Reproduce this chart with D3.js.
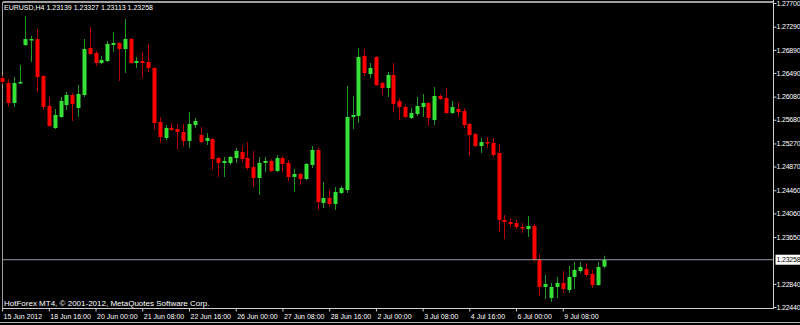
<!DOCTYPE html>
<html>
<head>
<meta charset="utf-8">
<script src="https://d3js.org/d3.v7.min.js"></script>
<style>
body { margin:0; background:#000; }
svg { display:block; }
text { font-family: 'Liberation Sans', Arial, sans-serif; font-size: 7px; fill: #fff; }
.yaxis text { letter-spacing: -0.2px; }
</style>
</head>
<body>
<svg id="drawing_region"></svg>
<script>
// EURUSD H4 bars
const symbol = 'EURUSD,H4';
const opens = [1.26402,1.26316,1.25970,1.26316,1.26973,1.27060,1.27077,1.26437,1.25918,1.25537,
  1.25728,1.25935,1.26108,1.25883,1.26108,1.26921,1.26835,1.26662,1.26697,1.26973,
  1.27008,1.26904,1.27077,1.26662,1.26697,1.26679,1.26575,1.25641,1.25364,1.25537,
  1.25520,1.25468,1.25313,1.25589,1.25416,1.25313,1.25347,1.25018,1.24932,1.24932,
  1.25018,1.25122,1.25018,1.24863,1.24672,1.24932,1.24967,1.24794,1.25018,1.24932,
  1.24690,1.24742,1.24655,1.24897,1.25157,1.24240,1.24326,1.24223,1.24413,1.24465,
  1.25728,1.25745,1.26783,1.26472,1.26766,1.26316,1.26229,1.26454,1.26005,1.25901,
  1.25710,1.25780,1.25901,1.25970,1.25676,1.26091,1.26056,1.25797,1.25866,1.25831,
  1.25607,1.25434,1.25226,1.25295,1.25278,1.25105,1.23946,1.23911,1.23894,1.23825,
  1.23790,1.23842,1.23254,1.22787,1.22596,1.22787,1.22856,1.22735,1.22960,1.23064,
  1.23098,1.23012,1.22821,1.23139];
const highs = [1.26440,1.26385,1.26420,1.26627,1.27475,1.27129,1.27250,1.26454,1.26074,1.25866,
  1.26074,1.26160,1.26143,1.26281,1.27077,1.27285,1.26870,1.26783,1.27043,1.27198,
  1.27025,1.27423,1.27095,1.26766,1.26852,1.26991,1.26593,1.25728,1.25589,1.25624,
  1.25607,1.25607,1.25814,1.25710,1.25555,1.25451,1.25365,1.25036,1.25036,1.25053,
  1.25191,1.25226,1.25295,1.25140,1.25036,1.25036,1.25001,1.25070,1.25053,1.24984,
  1.24828,1.24759,1.24932,1.25226,1.25191,1.24603,1.24465,1.24517,1.24534,1.26264,
  1.26091,1.26921,1.26904,1.26662,1.26783,1.26333,1.26506,1.26662,1.26056,1.25935,
  1.25883,1.26074,1.26126,1.25987,1.26247,1.26126,1.26229,1.26005,1.25987,1.25883,
  1.25624,1.25451,1.25364,1.25382,1.25364,1.25261,1.24032,1.23980,1.23946,1.23894,
  1.24015,1.23877,1.23358,1.22994,1.22856,1.22960,1.23064,1.23150,1.23219,1.23219,
  1.23202,1.23081,1.23219,1.23327];
const lows = [1.26299,1.25918,1.25901,1.26299,1.26956,1.26679,1.26160,1.25849,1.25555,1.25520,
  1.25710,1.25849,1.25659,1.25728,1.26074,1.26800,1.26610,1.26645,1.26679,1.26852,
  1.26351,1.26489,1.26645,1.26575,1.26402,1.26506,1.25503,1.25278,1.25330,1.25486,
  1.25174,1.25226,1.25191,1.25537,1.25278,1.25243,1.24811,1.24690,1.24690,1.24897,
  1.24932,1.24932,1.24811,1.24517,1.24378,1.24776,1.24776,1.24776,1.24776,1.24621,
  1.24430,1.24551,1.24638,1.24845,1.24119,1.24153,1.24171,1.24119,1.24396,1.24413,
  1.25520,1.25624,1.26437,1.26402,1.26264,1.26108,1.26074,1.25814,1.25676,1.25710,
  1.25693,1.25745,1.25728,1.25572,1.25589,1.26022,1.25780,1.25780,1.25728,1.25537,
  1.25053,1.25209,1.25105,1.25191,1.25036,1.23738,1.23617,1.23825,1.23790,1.23721,
  1.23652,1.23219,1.22631,1.22579,1.22527,1.22596,1.22683,1.22683,1.22752,1.23029,
  1.22960,1.22769,1.22804,1.23113];
const closes = [1.26333,1.25970,1.26316,1.26333,1.27077,1.27077,1.26420,1.25901,1.25572,1.25762,
  1.26005,1.26108,1.25953,1.26126,1.26904,1.26818,1.26662,1.26714,1.26991,1.27008,
  1.26904,1.27077,1.26662,1.26697,1.26662,1.26575,1.25624,1.25382,1.25537,1.25503,
  1.25468,1.25313,1.25607,1.25659,1.25295,1.25364,1.25001,1.24932,1.24967,1.25036,
  1.25140,1.25001,1.24845,1.24672,1.24932,1.24967,1.24794,1.25018,1.24915,1.24690,
  1.24742,1.24655,1.24915,1.25157,1.24257,1.24326,1.24223,1.24430,1.24499,1.25728,
  1.25762,1.26766,1.26489,1.26575,1.26281,1.26229,1.26454,1.25953,1.25901,1.25728,
  1.25797,1.25918,1.25970,1.25710,1.26091,1.26039,1.25797,1.25901,1.25814,1.25589,
  1.25416,1.25226,1.25295,1.25278,1.25070,1.23946,1.23911,1.23877,1.23825,1.23807,
  1.23842,1.23254,1.22787,1.22839,1.22787,1.22856,1.22752,1.22960,1.23081,1.23133,
  1.22994,1.22821,1.23133,1.23258];

const xLabels = ['15 Jun 2012','18 Jun 16:00','20 Jun 00:00','21 Jun 08:00','22 Jun 16:00',
  '26 Jun 00:00','27 Jun 08:00','28 Jun 16:00','2 Jul 00:00','3 Jul 08:00',
  '4 Jul 16:00','6 Jul 00:00','9 Jul 08:00'];
const yLabels = ['1.27700','1.27290','1.26890','1.26490','1.26080','1.25680','1.25270',
  '1.24870','1.24460','1.24060','1.23650','1.22840','1.22440'];
const bidPrice = 1.23258;
const copyright = 'HotForex MT4, \u00a9 2001-2012, MetaQuotes Software Corp.';

class Candlechart {

    constructor( config ) {
        this.config = config;
        this.data = opens.map( (o, i) => ({ i: i, o: o, h: highs[i], l: lows[i], c: closes[i] }) );
        this.init();
    }

    init() {
        let self = this;
        const m = self.config.plot;

        self.svg = d3.select( self.config.parent )
            .attr('width', self.config.width)
            .attr('height', self.config.height);

        self.svg.append('rect')
            .attr('width', self.config.width)
            .attr('height', self.config.height)
            .attr('fill', '#000');

        self.xscale = d3.scaleLinear()
            .domain([0, opens.length - 1])
            .range([2.1, 603.7]);

        self.yscale = d3.scaleLinear()
            .domain([1.22440, 1.27700])
            .range([307, 3]);

        // frame
        const frame = self.svg.append('g').attr('stroke', '#a0a0a0').attr('shape-rendering', 'crispEdges');
        frame.append('line').attr('x1', m.left).attr('x2', m.right).attr('y1', m.top).attr('y2', m.top).attr('stroke-width', 1.5);
        frame.append('line').attr('x1', m.left).attr('x2', m.left).attr('y1', m.top).attr('y2', m.bottom);
        frame.append('line').attr('x1', m.right).attr('x2', m.right).attr('y1', 0).attr('y2', m.bottom).attr('stroke', '#d0d0d0');
        frame.append('line').attr('x1', m.left).attr('x2', m.right).attr('y1', m.bottom).attr('y2', m.bottom).attr('stroke', '#d0d0d0');
        frame.append('line').attr('x1', 0).attr('x2', self.config.width).attr('y1', 322.5).attr('y2', 322.5).attr('stroke', '#b0b0b0');

        self.chart = self.svg.append('g');

        self.yaxis = d3.axisRight(self.yscale)
            .tickValues(yLabels.map(Number))
            .tickFormat(d => d.toFixed(5))
            .tickSize(3)
            .tickPadding(0);

        self.xaxis = d3.axisBottom(self.xscale)
            .tickValues(xLabels.map((d, i) => i * 8))
            .tickFormat((d, i) => xLabels[i])
            .tickSize(3)
            .tickPadding(3);

        self.yaxis_group = self.svg.append('g')
            .attr('class', 'yaxis')
            .attr('transform', `translate(${m.right}, 0)`);

        self.xaxis_group = self.svg.append('g')
            .attr('transform', `translate(0, ${m.bottom})`);
    }

    update() {
        let self = this;

        self.chart.selectAll('.wick')
            .data(self.data)
            .join('line')
            .attr('class', 'wick')
            .attr('x1', d => Math.round(self.xscale(d.i)) + 0.5)
            .attr('x2', d => Math.round(self.xscale(d.i)) + 0.5)
            .attr('y1', d => self.yscale(d.h))
            .attr('y2', d => self.yscale(d.l))
            .attr('stroke', d => d.c >= d.o ? '#1f9a1f' : '#b80000')
            .attr('stroke-width', 1);

        self.chart.selectAll('.body')
            .data(self.data)
            .join('rect')
            .attr('class', 'body')
            .attr('x', d => Math.round(self.xscale(d.i)) - 1.5)
            .attr('width', 4)
            .attr('y', d => self.yscale(Math.max(d.o, d.c)))
            .attr('height', d => Math.max(1.5, Math.abs(self.yscale(d.o) - self.yscale(d.c))))
            .attr('fill', d => d.c >= d.o ? '#36e036' : '#ff0000');

        self.render();
    }

    render() {
        let self = this;
        const m = self.config.plot;
        const by = self.yscale(bidPrice);

        self.yaxis_group.call(self.yaxis)
            .call(g => g.select('.domain').remove())
            .call(g => g.selectAll('line').attr('stroke', '#d0d0d0'));

        self.xaxis_group.call(self.xaxis)
            .call(g => g.select('.domain').remove())
            .call(g => g.selectAll('line').attr('stroke', '#d0d0d0'))
            .call(g => g.selectAll('text').attr('text-anchor', 'start').attr('x', 1));

        // bid line and its price box
        self.svg.append('line')
            .attr('x1', m.left).attr('x2', m.right)
            .attr('y1', by).attr('y2', by)
            .attr('stroke', '#8c97a8');

        self.svg.append('rect')
            .attr('x', m.right + 2).attr('y', by - 5)
            .attr('width', 30).attr('height', 10)
            .attr('fill', '#ffffff');

        self.svg.append('text')
            .attr('x', m.right + 3).attr('y', by + 2.5)
            .style('fill', '#000')
            .style('letter-spacing', '-0.2px')
            .text(bidPrice.toFixed(5));

        const last = self.data[self.data.length - 1];
        self.svg.append('text')
            .attr('x', 4).attr('y', 10)
            .text(`${symbol}  ${last.o.toFixed(5)} ${last.h.toFixed(5)} ${last.l.toFixed(5)} ${last.c.toFixed(5)}`);

        self.svg.append('text')
            .attr('x', 4).attr('y', 306)
            .style('font-size', '8px')
            .text(copyright);
    }
}

const config = {
    parent: '#drawing_region',
    width: 800,
    height: 325,
    plot: {left: 2.5, right: 773.5, top: 2, bottom: 308.5}
};

const candle_chart = new Candlechart( config );
candle_chart.update();
</script>
</body>
</html>
